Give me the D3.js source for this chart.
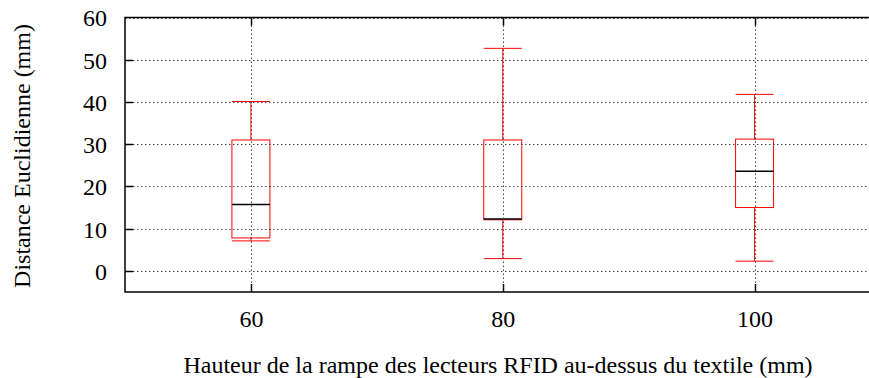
<!DOCTYPE html>
<html>
<head>
<meta charset="utf-8">
<script src="https://cdn.jsdelivr.net/npm/d3@7"></script>
<style>
  html, body { margin: 0; padding: 0; background: #fff; }
  svg { display: block; }
  svg text { font-family: "Liberation Serif", "Times New Roman", serif !important; fill: #000; }
</style>
</head>
<body>
<svg id="chart" width="869" height="378"></svg>
<script>
// Reader ramp heights (mm) and distance statistics per height
const categories = ["60", "80", "100"];
const whiskerLow = [7.1, 2.9, 2.3];
const q1 = [7.8, 12.1, 15.0];
const median = [15.7, 12.3, 23.6];
const q3 = [31.0, 31.0, 31.2];
const whiskerHigh = [40.1, 52.7, 41.8];
const yTicks = [0, 10, 20, 30, 40, 50, 60];

const svg = d3.select("#chart");
const plotLeft = 125, plotRight = 880.5, plotTop = 17.5, plotBottom = 292;
const fontSize = 24;
const serif = "'Liberation Serif', 'Times New Roman', serif";

const x = d3.scaleLinear().domain([0.5, 3.5]).range([plotLeft, plotRight]);
const y = d3.scaleLinear().domain([-5, 60]).range([plotBottom, plotTop]);
const halfBox = 19;
const tickLen = 8;

const rows = categories.map((c, i) => ({
  c, pos: i + 1,
  lo: whiskerLow[i], q1: q1[i], med: median[i], q3: q3[i], hi: whiskerHigh[i]
}));

// Boxes and whiskers
const g = svg.append("g");
rows.forEach(d => {
  const cx = x(d.pos);
  g.append("line").attr("x1", cx).attr("x2", cx).attr("y1", y(d.q3)).attr("y2", y(d.hi))
    .attr("stroke", "#ff0000").attr("stroke-width", 1);
  g.append("line").attr("x1", cx).attr("x2", cx).attr("y1", y(d.q1)).attr("y2", y(d.lo))
    .attr("stroke", "#ff0000").attr("stroke-width", 1);
  g.append("line").attr("x1", cx - halfBox).attr("x2", cx + halfBox).attr("y1", y(d.hi)).attr("y2", y(d.hi))
    .attr("stroke", "#ff0000").attr("stroke-width", 1);
  g.append("line").attr("x1", cx - halfBox).attr("x2", cx + halfBox).attr("y1", y(d.lo)).attr("y2", y(d.lo))
    .attr("stroke", "#ff0000").attr("stroke-width", 1);
  g.append("rect").attr("x", cx - halfBox).attr("width", 2 * halfBox)
    .attr("y", y(d.q3)).attr("height", y(d.q1) - y(d.q3))
    .attr("fill", "none").attr("stroke", "#ff0000").attr("stroke-width", 1);
  g.append("line").attr("x1", cx - halfBox).attr("x2", cx + halfBox).attr("y1", y(d.med)).attr("y2", y(d.med))
    .attr("stroke", "#000").attr("stroke-width", 1.5);
});

// Dotted grid drawn above the boxes
const grid = svg.append("g").attr("stroke", "#444").attr("stroke-width", 1).attr("stroke-dasharray", "1.5,2.5");
yTicks.forEach(t => {
  grid.append("line").attr("x1", plotLeft).attr("x2", plotRight).attr("y1", Math.round(y(t)) + 0.5).attr("y2", Math.round(y(t)) + 0.5);
});
rows.forEach(d => {
  const cx = Math.round(x(d.pos)) + 0.5;
  grid.append("line").attr("x1", cx).attr("x2", cx).attr("y1", plotTop).attr("y2", plotBottom);
});

// Frame (right side runs past the page edge)
const frame = svg.append("g").attr("stroke", "#000").attr("stroke-width", 1.5).attr("fill", "none");
frame.append("path").attr("d", `M${plotRight},${plotTop}H${plotLeft}V${plotBottom}H${plotRight}`);

// Tick marks
const ticks = svg.append("g").attr("stroke", "#000").attr("stroke-width", 1.5);
yTicks.filter(t => t !== 60).forEach(t => {
  const yy = Math.round(y(t)) + 0.5;
  ticks.append("line").attr("x1", plotLeft).attr("x2", plotLeft + tickLen).attr("y1", yy).attr("y2", yy);
});
rows.forEach(d => {
  const cx = Math.round(x(d.pos)) + 0.5;
  ticks.append("line").attr("x1", cx).attr("x2", cx).attr("y1", plotBottom).attr("y2", plotBottom - tickLen);
  ticks.append("line").attr("x1", cx).attr("x2", cx).attr("y1", plotTop).attr("y2", plotTop + tickLen);
});

// Axis labels via d3 axes (lines hidden, labels kept)
const yAxis = d3.axisLeft(y).tickValues(yTicks).tickSize(0).tickPadding(0);
svg.append("g").attr("transform", `translate(${plotLeft - 18},0)`).call(yAxis)
  .attr("font-family", null).attr("font-size", null)
  .call(s => s.select(".domain").remove())
  .selectAll("text").style("font-family", serif).style("font-size", fontSize + "px").attr("dy", "0.35em");

const xAxis = d3.axisBottom(x).tickValues(rows.map(d => d.pos)).tickFormat((v, i) => categories[i]).tickSize(0).tickPadding(0);
svg.append("g").attr("transform", `translate(0,${plotBottom + 18})`).call(xAxis)
  .attr("font-family", null).attr("font-size", null)
  .call(s => s.select(".domain").remove())
  .selectAll("text").style("font-family", serif).style("font-size", fontSize + "px").attr("dy", "0.71em");

// Axis titles
svg.append("text").attr("x", 498).attr("y", 373).attr("text-anchor", "middle")
  .style("font-family", serif).style("font-size", fontSize + "px")
  .text("Hauteur de la rampe des lecteurs RFID au-dessus du textile (mm)");
svg.append("text").attr("transform", "translate(30,156) rotate(-90)").attr("text-anchor", "middle")
  .style("font-family", serif).style("font-size", fontSize + "px")
  .text("Distance Euclidienne (mm)");
</script>
</body>
</html>
